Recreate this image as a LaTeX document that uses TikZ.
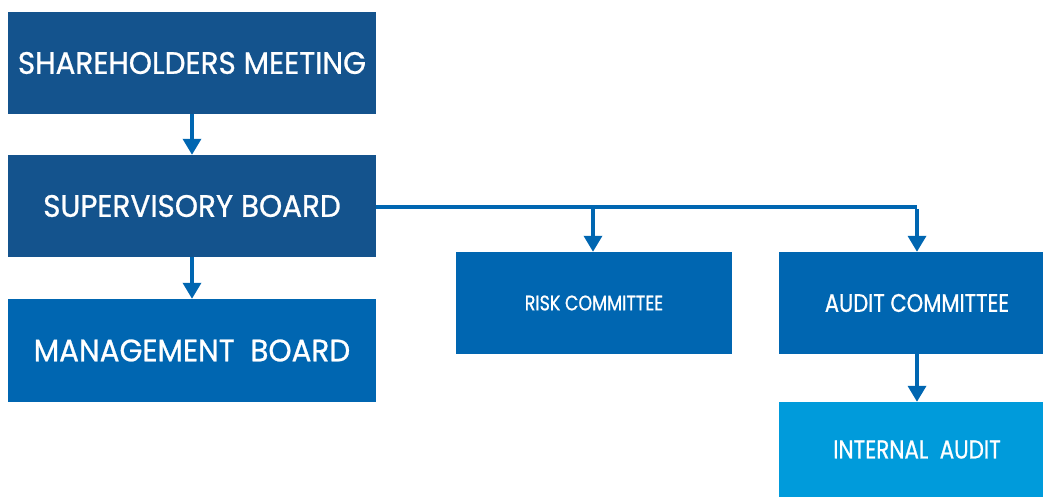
\documentclass[tikz,border=0pt]{standalone}
\usepackage{fontspec}
\usetikzlibrary{arrows.meta}
\newfontfamily\gfont[FakeStretch=0.95,FakeBold=0.8]{Poppins}
\newfontfamily\gfontc[FakeStretch=0.83,FakeBold=0.8]{Poppins}
\definecolor{darkb}{HTML}{14538D}
\definecolor{midb}{HTML}{0066B1}
\definecolor{lightb}{HTML}{009BDB}
\tikzset{
  box/.style={rectangle, inner sep=0pt, text=white},
  bigtext/.style={font=\gfont\fontsize{31}{31}\selectfont},
  conn/.style={draw=midb, line width=3.5pt},
  arr/.style={conn, -{Triangle[width=18pt,length=16pt]}},
}
\begin{document}
\begin{tikzpicture}[x=1pt,y=-1pt]
\useasboundingbox (0,0) rectangle (1043,497);
\begin{scope}
\clip (0,0) rectangle (1043,497);
\node[box, bigtext, fill=darkb, minimum width=368pt, minimum height=102pt] (sh) at (192,63) {SHAREHOLDERS MEETING};
\node[box, bigtext, fill=darkb, minimum width=368pt, minimum height=102pt] (sup) at (192,206) {SUPERVISORY BOARD};
\node[box, bigtext, fill=midb, minimum width=368pt, minimum height=103pt] (mg) at (192,350.5) {MANAGEMENT\ \ BOARD};
\node[box, fill=midb, minimum width=276pt, minimum height=102pt, font=\gfontc\fontsize{21}{21}\selectfont] (risk) at (594,303) {RISK COMMITTEE};
\node[box, fill=midb, minimum width=276pt, minimum height=102pt, font=\gfontc\fontsize{25.4}{25.4}\selectfont] (audit) at (917,303) {AUDIT COMMITTEE};
\node[box, fill=lightb, minimum width=276pt, minimum height=95pt, font=\gfontc\fontsize{25.9}{25.9}\selectfont] (int) at (917,449.5) {INTERNAL\ \ AUDIT};
\end{scope}
\coordinate (j1) at (593,207);
\coordinate (j2) at (917,207);
\draw[arr] (sh.south) -- (sup.north);
\draw[arr] (sup.south) -- (mg.north);
\draw[conn] (sup.east |- j1) -- (j2);
\draw[arr] (j1) -- (j1 |- risk.north);
\draw[arr] ([yshift=-1.75pt]j2) -- (j2 |- audit.north);
\draw[arr] (audit.south -| j2) -- (int.north -| j2);
\end{tikzpicture}
\end{document}
